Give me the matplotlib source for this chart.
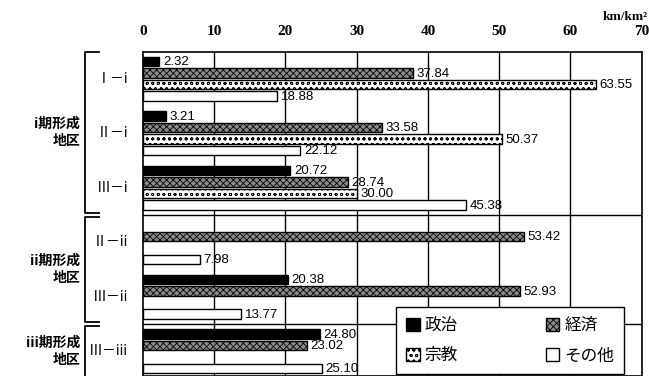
import matplotlib
matplotlib.use('Agg')
import matplotlib.pyplot as plt
import numpy as np

# データ
areas = ['Ⅰ－i', 'Ⅱ－i', 'Ⅲ－i', 'Ⅱ－ii', 'Ⅲ－ii', 'Ⅲ－iii']
groups = ['i期形成\n地区', 'ii期形成\n地区', 'iii期形成\n地区']
group_rows = [[0, 1, 2], [3, 4], [5]]
series_names = ['政治', '経済', '宗教', 'その他']
seiji = [2.32, 3.21, 20.72, 0, 20.38, 24.80]
keizai = [37.84, 33.58, 28.74, 53.42, 52.93, 23.02]
shukyo = [63.55, 50.37, 30.00, 0, 0, 0]
sonota = [18.88, 22.12, 45.38, 7.98, 13.77, 25.10]
xticks = [0, 10, 20, 30, 40, 50, 60, 70]

cjk = ['Noto Sans CJK JP', 'DejaVu Sans']
plt.rcParams['font.family'] = cjk
plt.rcParams['hatch.linewidth'] = 0.6

fig = plt.figure(figsize=(6.49, 3.76), dpi=100)
ax = fig.add_axes([0.2199, 0.0, 0.769, 0.8617])

step = 4.74  # グループ間隔（バー1本=1）
styles = [
    dict(color='black', edgecolor='black'),
    dict(color='#8a8a8a', edgecolor='black', hatch='xxxxx'),
    dict(color='white', edgecolor='black', hatch='ooo'),
    dict(color='white', edgecolor='black'),
]
values = [seiji, keizai, shukyo, sonota]

handles = []
for k, (vals, st) in enumerate(zip(values, styles)):
    vals = np.array(vals, dtype=float)
    y = np.arange(len(areas)) * step + k
    mask = vals > 0
    b = ax.barh(y[mask], vals[mask], height=0.82, linewidth=1.0,
                zorder=3, label=series_names[k], **st)
    handles.append(b)
    for yy, v in zip(y[mask], vals[mask]):
        ax.text(v + 0.5, yy + 0.05, f'{v:.2f}', va='center', ha='left',
                fontsize=9.5, family='Liberation Sans', zorder=4)

ax.set_xlim(0, 70)
top = -0.83
bottom = 27.35
ax.set_ylim(bottom, top)
ax.xaxis.tick_top()
ax.set_xticks(xticks)
ax.set_xticklabels([str(t) for t in xticks], family='Liberation Serif',
                   fontweight='bold', fontsize=11)
ax.tick_params(axis='x', length=0, pad=10)
ax.set_yticks([])
for x in xticks[1:-1]:
    ax.axvline(x, color='black', lw=1.0, zorder=1)
for s in ax.spines.values():
    s.set_linewidth(1.2)

# グループ区切り線
for g in range(1, len(group_rows)):
    prev_last = group_rows[g - 1][-1] * step + 3
    nxt = group_rows[g][0] * step
    ax.axhline((prev_last + nxt) / 2, color='black', lw=1.0, zorder=1)

# 地区ラベル
trans = matplotlib.transforms.blended_transform_factory(ax.transAxes, ax.transData)
for i, a in enumerate(areas):
    ax.text(-0.029, i * step + 1.5, a, transform=trans, ha='right', va='center',
            fontsize=10, clip_on=False)

# 括弧とグループラベル
for g, rows in enumerate(group_rows):
    y0 = rows[0] * step - 0.7
    y1 = rows[-1] * step + 3 + 0.7
    if g == 0:
        y0 = top
    ax.plot([-0.0874, -0.1156, -0.1156, -0.0874], [y0, y0, y1, y1],
            color='black', lw=1.3, transform=trans, clip_on=False)
    ax.text(-0.125, (y0 + y1) / 2, groups[g], transform=trans, ha='right',
            va='center', fontsize=10, fontweight='bold', linespacing=1.3,
            clip_on=False)

fig.text(0.998, 0.955, 'km/km²', ha='right', va='center', family='Liberation Serif',
         fontweight='bold', fontsize=9.5)

# 凡例（行方向に 政治・経済 / 宗教・その他）
order = [0, 2, 1, 3]
leg = ax.legend(handles=[handles[i] for i in order],
                labels=[series_names[i] for i in order], ncol=2, loc='upper left',
                bbox_to_anchor=(0.508, -0.2, 0.457, 0.413), mode='expand',
                fontsize=12, frameon=True, fancybox=False, handlelength=0.8,
                handleheight=0.8, handletextpad=0.3, borderpad=0.6,
                labelspacing=0.8, borderaxespad=0)
leg.get_frame().set_edgecolor('black')
leg.get_frame().set_linewidth(1.0)
leg.get_frame().set_alpha(1)
leg.set_zorder(10)

fig.savefig('out.png', dpi=100)
